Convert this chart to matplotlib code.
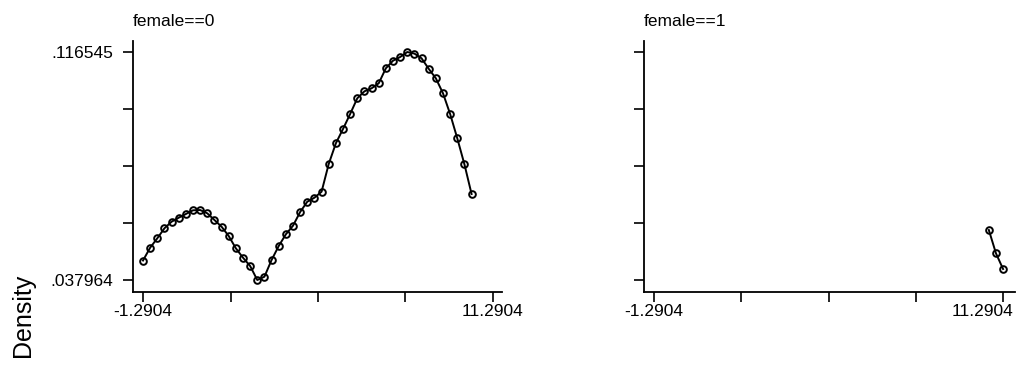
import numpy as np
from matplotlib import pyplot as plt
from matplotlib.transforms import ScaledTranslation

plt.rcParams['font.family'] = ['Liberation Sans', 'DejaVu Sans']

# evaluation grid (50 points from min to max)
grid = [-1.2904, -1.0336, -0.7769, -0.5201, -0.2634, -0.0066, 0.2501, 0.5069,
        0.7636, 1.0204, 1.2771, 1.5339, 1.7906, 2.0474, 2.3041, 2.5609,
        2.8176, 3.0744, 3.3311, 3.5879, 3.8446, 4.1014, 4.3581, 4.6149,
        4.8716, 5.1284, 5.3851, 5.6419, 5.8986, 6.1554, 6.4121, 6.6689,
        6.9256, 7.1824, 7.4391, 7.6959, 7.9526, 8.2094, 8.4661, 8.7229,
        8.9796, 9.2364, 9.4931, 9.7499, 10.0066, 10.2634, 10.5201, 10.7769,
        11.0336, 11.2904]

dens_f0 = [0.044685, 0.049097, 0.052336, 0.055783, 0.058058, 0.059436, 0.060712,
           0.061987, 0.062090, 0.060953, 0.058644, 0.056334, 0.053129, 0.048890,
           0.045650, 0.042789, 0.037964, 0.039101, 0.044857, 0.049682, 0.053715,
           0.056679, 0.061401, 0.064951, 0.066330, 0.068397, 0.077945, 0.085079,
           0.090008, 0.095178, 0.100589, 0.103001, 0.104035, 0.105759, 0.110929,
           0.113548, 0.114823, 0.116545, 0.116000, 0.114375, 0.110756, 0.107482,
           0.102312, 0.095178, 0.086802, 0.077841, 0.067605]
dens_f1 = [0.055197, 0.047166, 0.041755]

x_f0 = grid[:len(dens_f0)]
x_f1 = grid[len(dens_f0):]

ymin, ymax = 0.037964, 0.116545
xmin, xmax = -1.2904, 11.2904

fig = plt.figure(figsize=(10.19, 3.65), dpi=100)
ax1 = fig.add_axes([133/1019, 73/365, 369/1019, 251/365])
ax2 = fig.add_axes([644/1019, 73/365, 371/1019, 251/365])

panels = [(ax1, x_f0, dens_f0, 'female==0', 11.614),
          (ax2, x_f1, dens_f1, 'female==1', 11.72)]

for ax, xs, ys, title, xr in panels:
    ax.plot(xs, ys, '-o', color='black', lw=1.4, ms=4.8, mfc='none',
            mec='black', mew=1.4)
    ax.set_xlim(-1.65, xr)
    ax.set_ylim(0.03383, 0.12034)
    for s in ['top', 'right']:
        ax.spines[s].set_visible(False)
    for s in ['left', 'bottom']:
        ax.spines[s].set_linewidth(1.3)
    xt = np.linspace(xmin, xmax, 5)
    yt = np.linspace(ymin, ymax, 5)
    ax.set_xticks(xt)
    ax.set_xticklabels(['-1.2904', '', '', '', '11.2904'])
    ax.set_yticks(yt)
    if ax is ax1:
        ax.set_yticklabels(['.037964', '', '', '', '.116545'])
    else:
        ax.set_yticklabels([])
    ax.tick_params(axis='both', direction='out', length=7, width=1.2,
                   labelsize=12.5, colors='black')
    ax.tick_params(axis='x', pad=2)
    ax.tick_params(axis='y', pad=7)
    ax.text(0, 1 + 20/251, title, transform=ax.transAxes, ha='left',
            va='center', fontsize=12.5)

# keep the last label of the right panel inside the figure
lab = ax2.get_xticklabels()[-1]
lab.set_horizontalalignment('right')
lab.set_transform(lab.get_transform() + ScaledTranslation(0.1, 0, fig.dpi_scale_trans))

fig.text(23/1019, 1 - 315/365, 'Density', rotation=90, ha='center',
         va='center', fontsize=18)

plt.savefig('out.png')
